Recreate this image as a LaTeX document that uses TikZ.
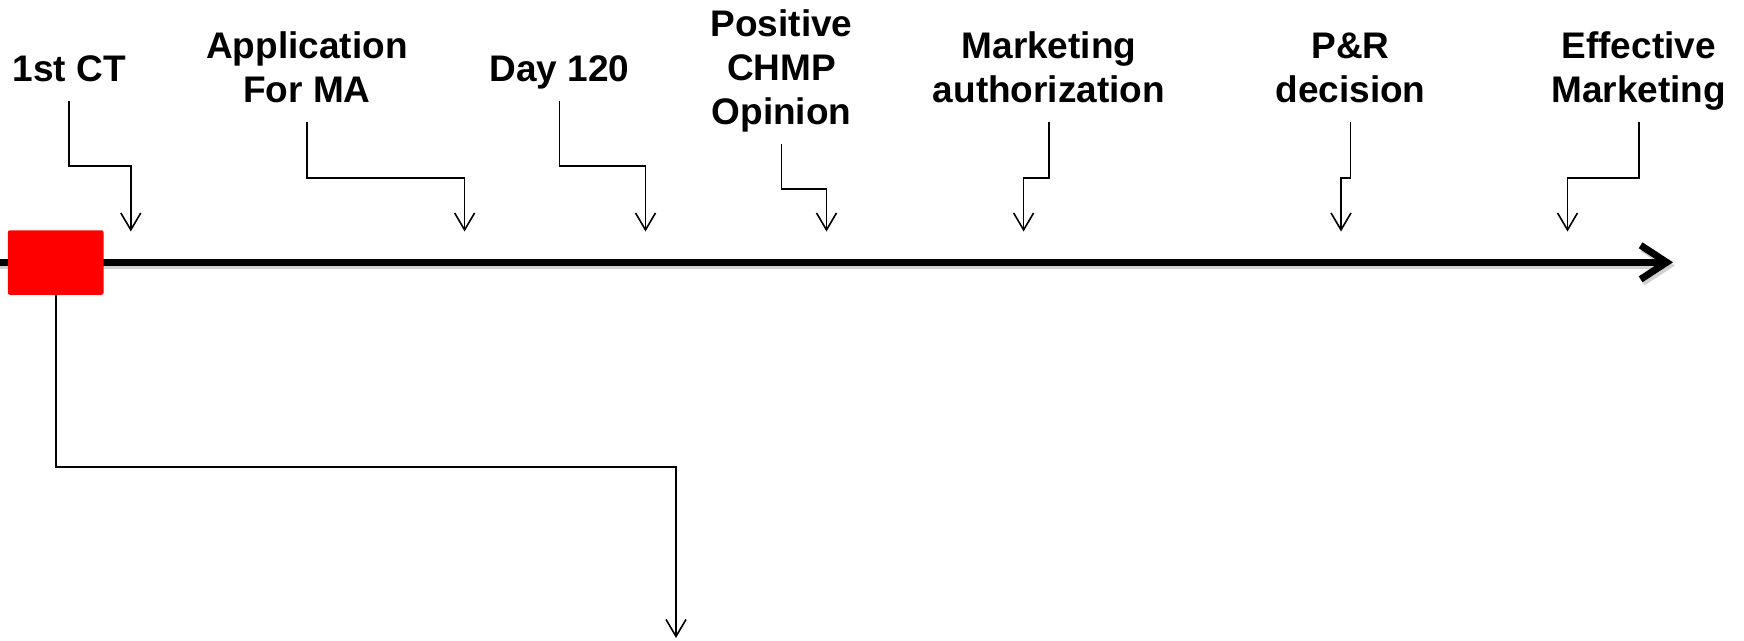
\documentclass[tikz,border=0pt]{standalone}
\usepackage{fontspec}
\setmainfont{Liberation Sans}
\usetikzlibrary{arrows.meta}
\begin{document}
\begin{tikzpicture}[x=1pt,y=-1pt,
  lbl/.style={font=\bfseries\fontsize{37}{44}\selectfont, align=center, inner xsep=0pt, inner ysep=6pt, anchor=south},
  conn/.style={line width=1.7pt, -{Straight Barb[length=17pt,width=20pt,line width=1.6pt]}},
  timeline/.style={line width=7pt, -{Straight Barb[length=26pt,width=34pt,line width=7pt]}},
  redbox/.style={fill=red, rounded corners=2pt, minimum width=95.6pt, minimum height=64.5pt, inner sep=0pt}]
\useasboundingbox (0,0) rectangle (1744,640);
% timeline
\coordinate (tl0) at (0,262.3);
\coordinate (tl1) at (1673,262.3);
\coordinate (sh0) at (0,265.5);
\coordinate (sh1) at (1675,265.5);
\draw[timeline, black!18] (sh0) -- (sh1);
\draw[timeline] (tl0) -- (tl1);
% red box
\node[redbox] (rbox) at (55.7,262.5) {};
% labels
\node[lbl] (ct)  at (69.2,101)  {1st CT\strut};
\node[lbl] (app) at (307,122)   {Application\\For MA\strut};
\node[lbl] (d120) at (559.4,101) {Day 120\strut};
\node[lbl] (chmp) at (781.5,144) {Positive\\CHMP\\Opinion\strut};
\node[lbl] (ma)  at (1049,122)  {Marketing\\authorization\strut};
\node[lbl] (pr)  at (1350.5,122) {P\&R\\decision\strut};
\node[lbl] (em)  at (1638.7,122) {Effective\\Marketing\strut};
% arrow tips
\coordinate (t1) at (130.8,231.5);
\coordinate (t2) at (464.6,231.5);
\coordinate (t3) at (645.5,231.5);
\coordinate (t4) at (826.5,231.5);
\coordinate (t5) at (1023.6,231.5);
\coordinate (t6) at (1341,231.5);
\coordinate (t7) at (1567.5,231.5);
\coordinate (low) at (676,638);
% connectors
\draw[conn] (ct.south) -- (ct.south |- 0,165.7) -| (t1);
\draw[conn] (app.south) -- (app.south |- 0,177.7) -| (t2);
\draw[conn] (d120.south) -- (d120.south |- 0,165.7) -| (t3);
\draw[conn] (chmp.south) -- (chmp.south |- 0,189) -| (t4);
\draw[conn] (ma.south) -- (ma.south |- 0,177.7) -| (t5);
\draw[conn] (pr.south) -- (pr.south |- 0,177.7) -| (t6);
\draw[conn] (em.south) -- (em.south |- 0,177.7) -| (t7);
\draw[conn, line width=2pt] (rbox.south) -- (rbox.south |- 0,466.7) -| (low);
\end{tikzpicture}
\end{document}
